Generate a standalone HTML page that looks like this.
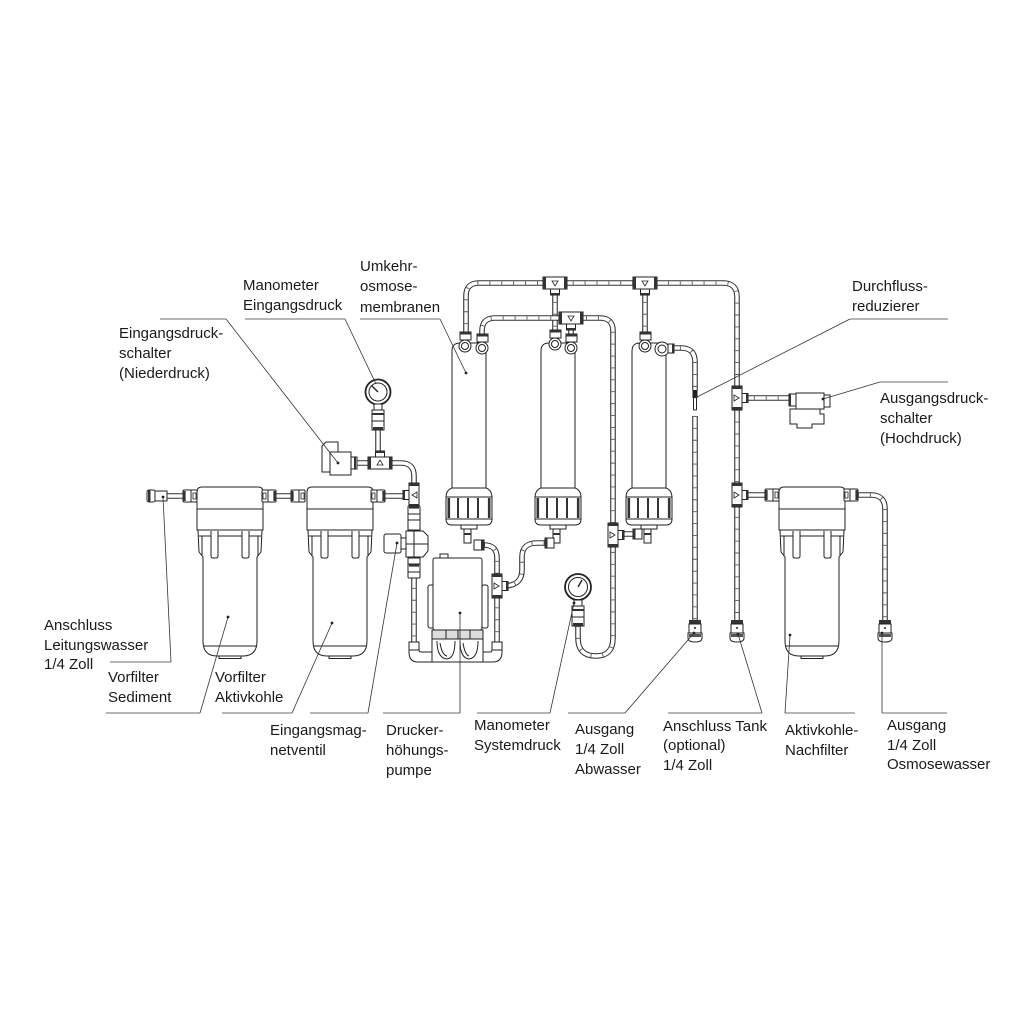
<!DOCTYPE html>
<html><head><meta charset="utf-8">
<style>
html,body{margin:0;padding:0;background:#fff;}
svg{display:block;}
text{font-family:"Liberation Sans",sans-serif;font-size:15px;fill:#1a1a1a;}
.po{fill:none;stroke:#333;stroke-width:5.6;}
.pi{fill:none;stroke:#fff;stroke-width:3.4;}
.pt{fill:none;stroke:#555;stroke-width:3.4;stroke-dasharray:0.9 11;}
.o{fill:#fff;stroke:#222;stroke-width:1;}
.on{fill:none;stroke:#222;stroke-width:1;}
.dk{fill:#333;}
.rule{stroke:#8a8a8a;stroke-width:1.3;fill:none;}
.lead{stroke:#333;stroke-width:0.8;fill:none;}
</style></head><body>
<svg width="1024" height="1024" viewBox="0 0 1024 1024">
<defs>
<path id="q1" d="M466 336 V296 Q466 283 479 283 H723 Q737 283 737 297 V620"/>
<path id="q2" d="M482 338 V331 Q482 318 495 318 H600 Q613 318 613 331 V524"/>
<path id="q3" d="M555 290 V336"/>
<path id="q4" d="M645 290 V336"/>
<path id="q5" d="M571 322 V338"/>
<path id="q6" d="M668 348 H681 Q695 348 695 362 V390"/>
<path id="q7" d="M695 416 V620"/>
<path id="q9" d="M742 398 H790"/>
<path id="q10" d="M742 495 H766"/>
<path id="q11" d="M858 495 H871 Q885 495 885 509 V620"/>
<path id="q12" d="M578 626 V638 Q578 656 596 656 Q613 656 613 638 V546"/>
<path id="q13" d="M414 576 V644"/>
<path id="q14" d="M497 644 V598"/>
<path id="q15" d="M484 545 Q497 545 497 558 V575"/>
<path id="q16" d="M503 586 Q522 586 522 570 V557 Q522 543 537 543 H548"/>
<path id="q17" d="M356 463 H370 M392 463 H401 Q414 463 414 476 V486"/>
<path id="q18" d="M378 430 V456"/>
<path id="q19" d="M167 496 H184 M275 496 H291 M384 496 H405"/>
<path id="q20" d="M619 534 H640"/>

<g id="fh"><rect x="-7" y="-6" width="14" height="12" rx="1" fill="#fff" stroke="#222"/><rect x="-7" y="-5" width="2.6" height="10" fill="#333"/><line x1="1" y1="-6" x2="1" y2="6" stroke="#222"/><rect x="3" y="-3" width="3" height="6" fill="none" stroke="#222" stroke-width="0.8"/></g>
<g id="fv"><rect x="-6" y="-7" width="12" height="14" rx="1" fill="#fff" stroke="#222"/><rect x="-5" y="-7" width="10" height="2.6" fill="#333"/><line x1="-6" y1="1" x2="6" y2="1" stroke="#222"/></g>
<g id="tv"><rect x="-5" y="-12" width="10" height="24" fill="#fff" stroke="#222"/><rect x="-5" y="-12" width="10" height="3" fill="#333"/><rect x="-5" y="9" width="10" height="3" fill="#333"/><path d="M-3 -3 L2 0 L-3 3 Z" fill="none" stroke="#222" stroke-width="0.8"/><rect x="5" y="-4.5" width="6" height="9" fill="#fff" stroke="#222"/><rect x="9" y="-4.5" width="2" height="9" fill="#333"/></g>
<g id="tdn"><rect x="-12" y="-6" width="24" height="12" fill="#fff" stroke="#222"/><rect x="-12" y="-6" width="3" height="12" fill="#333"/><rect x="9" y="-6" width="3" height="12" fill="#333"/><path d="M-3 -2 L3 -2 L0 3 Z" fill="none" stroke="#222" stroke-width="0.8"/><rect x="-4.5" y="6" width="9" height="6" fill="#fff" stroke="#222"/><rect x="-4.5" y="10" width="9" height="2" fill="#333"/></g>
<g id="cb"><rect x="-6" y="0" width="12" height="4" fill="#333"/><rect x="-6" y="4" width="12" height="9" fill="#fff" stroke="#222"/><circle cx="0" cy="8" r="1" fill="#222"/><path d="M-7 13 H7 V18 Q7 22 0 22 Q-7 22 -7 18 Z" fill="#fff" stroke="#222"/><rect x="-6" y="14" width="12" height="3" fill="#555"/></g>

<g id="mem">
 <path class="o" d="M-17 490 V351 Q-17 343 -9 343 H9 Q17 343 17 351 V490 Z"/>
 <path class="o" d="M-17 488 Q-23 490 -23 498 V519 Q-23 525 -17 525 H17 Q23 525 23 519 V498 Q23 490 17 488 Z"/>
 <line class="on" x1="-23" y1="497" x2="23" y2="497"/>
 <line class="on" x1="-23" y1="519" x2="23" y2="519"/>
 <rect class="dk" x="-21.5" y="498" width="2.6" height="20"/>
 <rect class="dk" x="-12" y="498" width="2" height="20"/>
 <rect class="dk" x="-2" y="498" width="2" height="20"/>
 <rect class="dk" x="8" y="498" width="2" height="20"/>
 <rect class="dk" x="18.9" y="498" width="2.6" height="20"/>
 <rect class="o" x="-8" y="525" width="16" height="4"/>
 <rect class="o" x="-5" y="529" width="7" height="14"/>
 <rect class="dk" x="-5" y="533" width="7" height="2"/>
</g>

<g id="flt">
 <path class="o" d="M-33 530 V492 Q-33 487 -28 487 H28 Q33 487 33 492 V530 Z"/>
 <line class="on" x1="-33" y1="509" x2="33" y2="509"/>
 <path class="o" d="M-32 530 L-31 552 L-27 557 L-27 641 Q-27 656 -13 656 H13 Q27 656 27 641 L27 557 L31 552 L32 530 Z"/>
 <line class="on" x1="-31" y1="536" x2="31" y2="536"/>
 <path class="on" d="M-28 536 L-28 556 M28 536 L28 556"/>
 <line class="on" x1="-27" y1="646" x2="27" y2="646"/>
 <rect class="o" x="-11" y="656" width="22" height="2.5"/>
 <path class="o" d="M-19 531 V556 Q-19 558 -17 558 H-14 Q-12 558 -12 556 V531"/>
 <path class="o" d="M12 531 V556 Q12 558 14 558 H17 Q19 558 19 556 V531"/>
</g>
</defs>

<!-- ========== PIPES ========== -->
<g>
<use href="#q3" class="po"/><use href="#q3" class="pi"/><use href="#q3" class="pt"/>
<use href="#q4" class="po"/><use href="#q4" class="pi"/><use href="#q4" class="pt"/>
<use href="#q1" class="po"/><use href="#q1" class="pi"/><use href="#q1" class="pt"/>
<use href="#q2" class="po"/><use href="#q2" class="pi"/><use href="#q2" class="pt"/>
<use href="#q5" class="po"/><use href="#q5" class="pi"/>
<use href="#q6" class="po"/><use href="#q6" class="pi"/><use href="#q6" class="pt"/>
<use href="#q7" class="po"/><use href="#q7" class="pi"/><use href="#q7" class="pt"/>
<use href="#q9" class="po"/><use href="#q9" class="pi"/><use href="#q9" class="pt"/>
<use href="#q10" class="po"/><use href="#q10" class="pi"/>
<use href="#q11" class="po"/><use href="#q11" class="pi"/><use href="#q11" class="pt"/>
<use href="#q12" class="po"/><use href="#q12" class="pi"/><use href="#q12" class="pt"/>
<use href="#q13" class="po"/><use href="#q13" class="pi"/><use href="#q13" class="pt"/>
<use href="#q14" class="po"/><use href="#q14" class="pi"/><use href="#q14" class="pt"/>
<use href="#q15" class="po"/><use href="#q15" class="pi"/><use href="#q15" class="pt"/>
<use href="#q16" class="po"/><use href="#q16" class="pi"/><use href="#q16" class="pt"/>
<use href="#q17" class="po"/><use href="#q17" class="pi"/>
<use href="#q18" class="po"/><use href="#q18" class="pi"/>
<use href="#q19" class="po"/><use href="#q19" class="pi"/>
<use href="#q20" class="po"/><use href="#q20" class="pi"/>
</g>

<!-- flow reducer -->
<rect x="692.5" y="390" width="5" height="8" fill="#222"/>
<path class="on" d="M693.5 398 V410 M696.5 398 V410 M693.5 410 H696.5"/>

<!-- ========== MEMBRANES ========== -->
<use href="#mem" transform="translate(469,0)"/>
<use href="#mem" transform="translate(558,0)"/>
<use href="#mem" transform="translate(649,0)"/>
<!-- top ports -->
<g>
 <rect class="o" x="460" y="332" width="11" height="8"/><rect class="dk" x="460" y="332" width="11" height="2.5"/>
 <circle class="o" cx="465" cy="346" r="6"/><circle class="on" cx="465" cy="346" r="3.5"/>
 <rect class="o" x="477" y="334" width="11" height="8"/><rect class="dk" x="477" y="334" width="11" height="2.5"/>
 <circle class="o" cx="482" cy="348" r="6"/><circle class="on" cx="482" cy="348" r="3.5"/>

 <rect class="o" x="550" y="330" width="11" height="8"/><rect class="dk" x="550" y="330" width="11" height="2.5"/>
 <circle class="o" cx="555" cy="344" r="6"/><circle class="on" cx="555" cy="344" r="3.5"/>
 <rect class="o" x="566" y="334" width="11" height="8"/><rect class="dk" x="566" y="334" width="11" height="2.5"/>
 <circle class="o" cx="571" cy="348" r="6"/><circle class="on" cx="571" cy="348" r="3.5"/>

 <rect class="o" x="640" y="332" width="11" height="8"/><rect class="dk" x="640" y="332" width="11" height="2.5"/>
 <circle class="o" cx="645" cy="346" r="6"/><circle class="on" cx="645" cy="346" r="3.5"/>
 <circle class="o" cx="662" cy="349" r="7"/><circle class="on" cx="662" cy="349" r="4"/>
 <rect class="o" x="668" y="344" width="6" height="9"/><rect class="dk" x="672" y="344" width="2" height="9"/>
</g>
<!-- bottom fittings of membranes -->
<g>
 <rect class="o" x="474" y="540" width="10" height="10"/><rect class="dk" x="481" y="540" width="2.5" height="10"/>
 <rect class="o" x="545" y="538" width="9" height="10"/><rect class="dk" x="545" y="538" width="2.5" height="10"/>
 <rect class="o" x="633" y="529" width="9" height="10"/><rect class="dk" x="633" y="529" width="2.5" height="10"/>
</g>

<!-- tees -->
<use href="#tdn" x="555" y="283"/>
<use href="#tdn" x="645" y="283"/>
<use href="#tdn" x="571" y="318"/>
<use href="#tv" x="737" y="398"/>
<use href="#tv" x="737" y="495"/>
<use href="#tv" x="613" y="535"/>
<use href="#tv" x="497" y="586"/>
<use href="#tv" transform="translate(414,495) scale(-1,1)"/>
<use href="#tdn" transform="translate(380,463) scale(1,-1)"/>

<!-- ========== FILTERS ========== -->
<use href="#flt" transform="translate(230,0)"/>
<use href="#flt" transform="translate(340,0)"/>
<use href="#flt" transform="translate(812,0)"/>
<!-- filter fittings -->
<g>
 <rect class="o" x="147" y="490" width="8" height="12" rx="2"/><rect class="dk" x="148" y="490" width="2.5" height="12"/>
 <rect class="o" x="155" y="491" width="12" height="10"/>
 <use href="#fh" x="190" y="496"/>
 <use href="#fh" transform="translate(269,496) scale(-1,1)"/>
 <use href="#fh" x="298" y="496"/>
 <use href="#fh" transform="translate(378,496) scale(-1,1)"/>
 <use href="#fh" x="772" y="495"/>
 <use href="#fh" transform="translate(851,495) scale(-1,1)"/>
</g>

<!-- bottom connectors -->
<use href="#cb" x="695" y="620"/>
<use href="#cb" x="737" y="620"/>
<use href="#cb" x="885" y="620"/>

<!-- ========== GAUGE Eingangsdruck ========== -->
<g>
 <circle cx="378" cy="392" r="12.5" fill="#fff" stroke="#222" stroke-width="1.8"/>
 <circle class="on" cx="378" cy="392" r="9"/>
 <line x1="378" y1="392" x2="372" y2="386" stroke="#222" stroke-width="1.4"/>
 <rect class="o" x="374" y="404" width="8" height="6"/>
 <rect class="o" x="372" y="410" width="12" height="20"/>
 <rect class="dk" x="372" y="413" width="12" height="2"/>
 <line class="on" x1="372" y1="421" x2="384" y2="421"/>
 <rect class="dk" x="373" y="427" width="10" height="3"/>
</g>
<!-- low pressure switch -->
<g>
 <path class="o" d="M322 446 L326 442 H338 V472 H322 Z"/>
 <rect class="o" x="330" y="452" width="21" height="23"/>
 <rect class="o" x="351" y="457" width="6" height="12"/><rect class="dk" x="354" y="457" width="2" height="12"/>
</g>

<!-- ========== SOLENOID VALVE + LEFT VERTICAL ========== -->
<g>
 <use href="#fv" x="414" y="513"/>
 <rect class="o" x="408" y="520" width="12" height="10"/>
 <rect class="o" x="384" y="534" width="17" height="19" rx="2"/>
 <rect class="o" x="401" y="538" width="5" height="11"/>
 <path class="o" d="M406 531 H423 L428 536 V551 L423 557 H406 Z"/>
 <line class="on" x1="406" y1="544" x2="428" y2="544"/>
 <line class="on" x1="414" y1="531" x2="414" y2="557"/>
 <rect class="o" x="408" y="558" width="12" height="8"/>
 <use href="#fv" x="414" y="571"/>
</g>

<!-- ========== PUMP ========== -->
<g>
 <rect class="o" x="440" y="554" width="8" height="4"/>
 <rect class="o" x="428" y="585" width="6" height="43" rx="2"/>
 <rect class="o" x="482" y="585" width="6" height="43" rx="2"/>
 <rect class="o" x="433" y="558" width="49" height="72" rx="2"/>
 <rect x="432" y="630" width="51" height="9" fill="#ddd" stroke="#222"/>
 <line class="on" x1="446" y1="630" x2="446" y2="639"/>
 <line class="on" x1="458" y1="630" x2="458" y2="639"/>
 <line class="on" x1="470" y1="630" x2="470" y2="639"/>
 <rect class="o" x="432" y="639" width="51" height="23"/>
 <path class="on" d="M437 641 Q437 658 447 659 Q455 658 455 641 M440 643 Q442 655 447 656 M460 641 Q460 658 469 659 Q478 658 478 641 M463 643 Q465 655 469 656"/>
 <rect class="o" x="409" y="642" width="10" height="8"/>
 <path class="o" d="M409 650 H419 Q419 652 421 652 H432 V662 H418 Q409 662 409 652 Z"/>
 <rect class="o" x="492" y="642" width="10" height="8"/>
 <path class="o" d="M502 650 H492 Q492 652 490 652 H483 V662 H493 Q502 662 502 652 Z"/>
</g>

<!-- ========== SYSTEM GAUGE ========== -->
<g>
 <circle cx="578" cy="587" r="13" fill="#fff" stroke="#222" stroke-width="1.8"/>
 <circle class="on" cx="578" cy="587" r="9.5"/>
 <line x1="578" y1="587" x2="582" y2="580" stroke="#222" stroke-width="1.4"/>
 <rect class="o" x="574" y="600" width="8" height="6"/>
 <rect class="o" x="572" y="606" width="12" height="20"/>
 <rect class="dk" x="572" y="609" width="12" height="2"/>
 <line class="on" x1="572" y1="617" x2="584" y2="617"/>
 <rect class="dk" x="573" y="623" width="10" height="3"/>
</g>

<!-- ========== HIGH PRESSURE SWITCH ========== -->
<g>
 <rect class="o" x="789" y="394" width="7" height="12"/><rect class="dk" x="789" y="394" width="2" height="12"/>
 <rect class="o" x="796" y="393" width="28" height="16"/>
 <rect class="o" x="824" y="395" width="6" height="12"/>
 <path class="o" d="M790 409 H820 V414 H824 V424 H812 V428 H797 V424 H790 Z"/>
</g>

<!-- ========== LEADER LINES ========== -->
<g>
 <path class="rule" d="M245 319 H345 M360 319 H440 M160 319 H226 M850 319 H948 M880 382 H948"/>
 <path class="lead" d="M345 319 L376 384 M440 319 L466 373 M226 319 L338 463 M850 319 L695 398 M880 382 L823 399"/>
 <path class="rule" d="M110 662 H171 M106 713 H200 M222 713 H292 M310 713 H368 M383 713 H460 M477 713 H550 M568 713 H625 M668 713 H762 M785 713 H855 M882 713 H947"/>
 <path class="lead" d="M171 662 L163 497 M200 713 L228 617 M292 713 L332 623 M368 713 L397 543 M460 713 V613 M550 713 L574 603 M625 713 L694 633 M762 713 L738 634 M785 713 L790 635 M882 713 V633"/>
 <g fill="#222">
  <circle cx="466" cy="373" r="1.4"/><circle cx="338" cy="463" r="1.4"/><circle cx="823" cy="399" r="1.4"/>
  <circle cx="163" cy="497" r="1.4"/><circle cx="228" cy="617" r="1.4"/><circle cx="332" cy="623" r="1.4"/>
  <circle cx="397" cy="543" r="1.4"/><circle cx="460" cy="613" r="1.4"/><circle cx="574" cy="603" r="1.4"/>
  <circle cx="694" cy="633" r="1.4"/><circle cx="738" cy="634" r="1.4"/><circle cx="790" cy="635" r="1.4"/>
  <circle cx="882" cy="633" r="1.4"/>
 </g>
</g>

<!-- ========== LABELS ========== -->
<text x="243" y="290">Manometer</text>
<text x="243" y="310">Eingangsdruck</text>
<text x="360" y="271">Umkehr-</text>
<text x="360" y="291">osmose-</text>
<text x="360" y="312">membranen</text>
<text x="119" y="338">Eingangsdruck-</text>
<text x="119" y="358">schalter</text>
<text x="119" y="378">(Niederdruck)</text>
<text x="852" y="291">Durchfluss-</text>
<text x="852" y="311">reduzierer</text>
<text x="880" y="403">Ausgangsdruck-</text>
<text x="880" y="423">schalter</text>
<text x="880" y="443">(Hochdruck)</text>
<text x="44" y="630">Anschluss</text>
<text x="44" y="650">Leitungswasser</text>
<text x="44" y="669">1/4 Zoll</text>
<text x="108" y="682">Vorfilter</text>
<text x="108" y="702">Sediment</text>
<text x="215" y="682">Vorfilter</text>
<text x="215" y="702">Aktivkohle</text>
<text x="270" y="735">Eingangsmag-</text>
<text x="270" y="755">netventil</text>
<text x="386" y="735">Drucker-</text>
<text x="386" y="755">höhungs-</text>
<text x="386" y="775">pumpe</text>
<text x="474" y="730">Manometer</text>
<text x="474" y="750">Systemdruck</text>
<text x="575" y="734">Ausgang</text>
<text x="575" y="754">1/4 Zoll</text>
<text x="575" y="774">Abwasser</text>
<text x="663" y="731">Anschluss Tank</text>
<text x="663" y="750">(optional)</text>
<text x="663" y="770">1/4 Zoll</text>
<text x="785" y="735">Aktivkohle-</text>
<text x="785" y="755">Nachfilter</text>
<text x="887" y="730">Ausgang</text>
<text x="887" y="750">1/4 Zoll</text>
<text x="887" y="769">Osmosewasser</text>
</svg>
</body></html>
